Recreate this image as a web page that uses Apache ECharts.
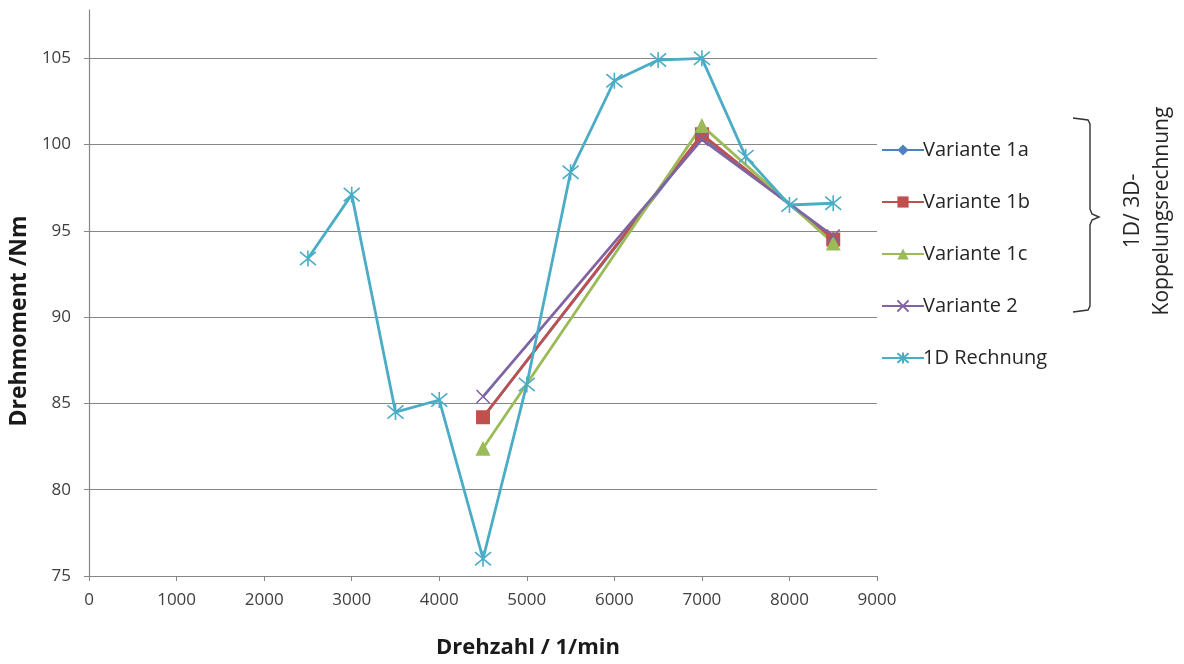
<!DOCTYPE html>
<html>
<head>
<meta charset="utf-8">
<script src="https://cdn.jsdelivr.net/npm/echarts@6/dist/echarts.min.js"></script>
<style>
html,body{margin:0;padding:0;background:#fff;}
#chart{width:1184px;height:664px;}
</style>
</head>
<body>
<div id="chart"></div>
<script>
// ---- data ----
const rpm1D = [2500, 3000, 3500, 4000, 4500, 5000, 5500, 6000, 6500, 7000, 7500, 8000, 8500];
const torque1D = [93.4, 97.1, 84.5, 85.2, 76.0, 86.1, 98.4, 103.7, 104.9, 105.0, 99.3, 96.5, 96.6];
const rpmVar = [4500, 7000, 8500];
const variante1a = [84.2, 100.5, 94.6];
const variante1b = [84.2, 100.6, 94.5];
const variante1c = [82.4, 101.1, 94.3];
const variante2 = [85.4, 100.3, 94.7];
const seriesNames = ['Variante 1a', 'Variante 1b', 'Variante 1c', 'Variante 2', '1D Rechnung'];
const xTicks = [0, 1000, 2000, 3000, 4000, 5000, 6000, 7000, 8000, 9000];
const yTicks = [75, 80, 85, 90, 95, 100, 105];

const colors = ['#4F81BD', '#C0504D', '#9BBB59', '#8064A2', '#4BACC6'];
const pair = (xs, ys) => xs.map((x, i) => [x, ys[i]]);
const starPath = 'path://M0,0 L10,10 M10,0 L0,10 M5,-1 L5,11';
const crossPath = 'path://M0,0 L10,10 M10,0 L0,10';
const font = '"Open Sans", Lato, sans-serif';

const chart = echarts.init(document.getElementById('chart'));

function mk(name, data, color, symbol, size, stroke) {
  return {
    name: name, type: 'line', data: data, symbol: symbol, symbolSize: size,
    showAllSymbol: true,
    lineStyle: { color: color, width: 2.8 },
    itemStyle: stroke
      ? { color: 'rgba(0,0,0,0)', borderColor: color, borderWidth: 1.6 }
      : { color: color, borderWidth: 0 },
    emphasis: { disabled: true },
    animation: false
  };
}

chart.setOption({
  animation: false,
  color: colors,
  grid: { left: 88, right: 307, top: 10, bottom: 87 },
  xAxis: {
    type: 'value', min: xTicks[0], max: xTicks[xTicks.length - 1], interval: 1000,
    name: 'Drehzahl / 1/min', nameLocation: 'middle', nameGap: 61,
    nameTextStyle: { fontFamily: font, fontWeight: 'bold', fontSize: 22, color: '#1a1a1a',
      padding: [0, 0, 0, 90] },
    axisLine: { show: true, lineStyle: { color: '#868686', width: 1.2 } },
    axisTick: { show: true, length: 5, lineStyle: { color: '#868686' } },
    axisLabel: { fontFamily: font, fontSize: 17, color: '#404040', margin: 16,
      formatter: v => String(v) },
    splitLine: { show: false }
  },
  yAxis: {
    type: 'value', min: yTicks[0], max: 107.8, interval: 5,
    name: 'Drehmoment /Nm', nameLocation: 'middle', nameGap: 53,
    nameTextStyle: { fontFamily: font, fontWeight: 'bold', fontSize: 23, color: '#1a1a1a',
      padding: [0, 56, 0, 0] },
    axisLine: { show: true, lineStyle: { color: '#868686', width: 1.2 } },
    axisTick: { show: true, length: 5, lineStyle: { color: '#868686' } },
    axisLabel: { fontFamily: font, fontSize: 17, color: '#404040', margin: 18, showMaxLabel: false,
      formatter: v => (yTicks.indexOf(v) >= 0 ? String(v) : '') },
    splitLine: { show: true, showMaxLine: false, lineStyle: { color: '#868686', width: 1.2 } }
  },
  legend: {
    orient: 'vertical', left: 876, top: 133,
    itemWidth: 42, itemHeight: 14, itemGap: 28,
    data: seriesNames,
    textStyle: { fontFamily: font, fontSize: 20, color: '#262626', lineHeight: 24, padding: [0, 0, 0, -6] }
  },
  series: [
    mk(seriesNames[0], pair(rpmVar, variante1a), colors[0], 'diamond', 12, false),
    mk(seriesNames[1], pair(rpmVar, variante1b), colors[1], 'rect', 14, false),
    mk(seriesNames[2], pair(rpmVar, variante1c), colors[2], 'triangle', 15, false),
    mk(seriesNames[3], pair(rpmVar, variante2), colors[3], crossPath, 13, true),
    mk(seriesNames[4], pair(rpm1D, torque1D), colors[4], starPath, 16, true)
  ],
  graphic: [
    {
      type: 'polyline', silent: true,
      shape: { points: [[1073, 118], [1088, 120], [1090, 124], [1090, 209], [1092, 214], [1099, 217], [1092, 220], [1090, 225], [1090, 306], [1088, 310], [1073, 312]] },
      style: { stroke: '#333', lineWidth: 1.4, fill: null }
    },
    {
      type: 'text', silent: true, x: 1148, y: 211, rotation: Math.PI / 2,
      style: {
        text: '1D/ 3D-\nKoppelungsrechnung', fontFamily: font, fontSize: 21, fill: '#262626',
        align: 'center', verticalAlign: 'middle', lineHeight: 29
      }
    }
  ]
});
</script>
</body>
</html>
